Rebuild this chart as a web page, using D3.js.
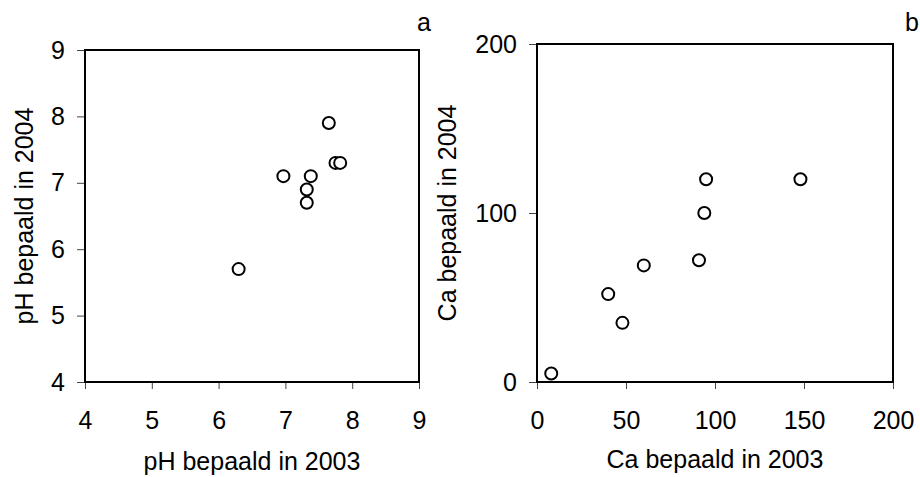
<!DOCTYPE html>
<meta charset="utf-8">
<style>
body { margin: 0; background: #fff; }
svg { font-family: "Liberation Sans", Arial, sans-serif; }
.frame { fill: none; stroke: #000; stroke-width: 2px; }
.tick line { stroke: #444; }
.tick text { fill: #000; }
.dot { fill: #fff; stroke: #000; stroke-width: 2px; }
</style>
<svg width="920" height="477"></svg>
<script src="https://cdn.jsdelivr.net/npm/d3@7"></script>
<script>

// panel a: pH
var ph2003 = [7.65, 7.75, 7.82, 6.97, 7.38, 7.32, 7.32, 6.3];
var ph2004 = [7.9, 7.3, 7.3, 7.1, 7.1, 6.9, 6.7, 5.7];
var phTicks = [4, 5, 6, 7, 8, 9];

// panel b: Ca
var ca2003 = [8, 40, 48, 60, 91, 94, 95, 148];
var ca2004 = [5, 52, 35, 69, 72, 100, 120, 120];
var caXTicks = [0, 50, 100, 150, 200];
var caYTicks = [0, 100, 200];

var svg = d3.select("svg");
var fs = "25px";

function panel(opts) {
  var x = d3.scaleLinear().domain(opts.xDomain).range([opts.left, opts.right]);
  var y = d3.scaleLinear().domain(opts.yDomain).range([opts.bottom, opts.top]);
  var g = svg.append("g");

  g.append("g")
      .attr("transform", "translate(0," + opts.bottom + ")")
      .call(d3.axisBottom(x).tickValues(opts.xTicks).tickFormat(d3.format("d")).tickSize(7).tickPadding(22))
      .call(function(a) { a.select(".domain").remove(); })
      .selectAll("text").style("font-size", fs);

  g.append("g")
      .attr("transform", "translate(" + opts.left + ",0)")
      .call(d3.axisLeft(y).tickValues(opts.yTicks).tickFormat(d3.format("d")).tickSize(8).tickPadding(12))
      .call(function(a) { a.select(".domain").remove(); })
      .selectAll("text").style("font-size", fs);

  g.append("rect")
      .attr("class", "frame")
      .attr("x", opts.left)
      .attr("y", opts.top)
      .attr("width", opts.right - opts.left)
      .attr("height", opts.bottom - opts.top);

  g.selectAll(".dot")
    .data(opts.xs)
    .enter().append("circle")
      .attr("class", "dot")
      .attr("r", 6)
      .attr("cx", function(d) { return x(d); })
      .attr("cy", function(d, i) { return y(opts.ys[i]); });

  g.append("text")
      .attr("x", (opts.left + opts.right) / 2)
      .attr("y", opts.xTitleY)
      .attr("text-anchor", "middle")
      .style("font-size", fs)
      .text(opts.xTitle);

  g.append("text")
      .attr("transform", "translate(" + opts.yTitleX + "," + (opts.top + opts.bottom) / 2 + ") rotate(-90)")
      .attr("text-anchor", "middle")
      .style("font-size", fs)
      .text(opts.yTitle);

  g.append("text")
      .attr("x", opts.labelX)
      .attr("y", opts.labelY)
      .style("font-size", fs)
      .text(opts.label);
}

panel({
  left: 85, right: 419, top: 50, bottom: 382,
  xDomain: [4, 9], yDomain: [4, 9],
  xTicks: phTicks, yTicks: phTicks,
  xs: ph2003, ys: ph2004,
  xTitle: "pH bepaald in 2003", xTitleY: 470,
  yTitle: "pH bepaald in 2004", yTitleX: 33,
  label: "a", labelX: 417, labelY: 31
});

panel({
  left: 537, right: 893, top: 44, bottom: 382,
  xDomain: [0, 200], yDomain: [0, 200],
  xTicks: caXTicks, yTicks: caYTicks,
  xs: ca2003, ys: ca2004,
  xTitle: "Ca bepaald in 2003", xTitleY: 468,
  yTitle: "Ca bepaald in 2004", yTitleX: 456,
  label: "b", labelX: 905, labelY: 31
});

</script>
